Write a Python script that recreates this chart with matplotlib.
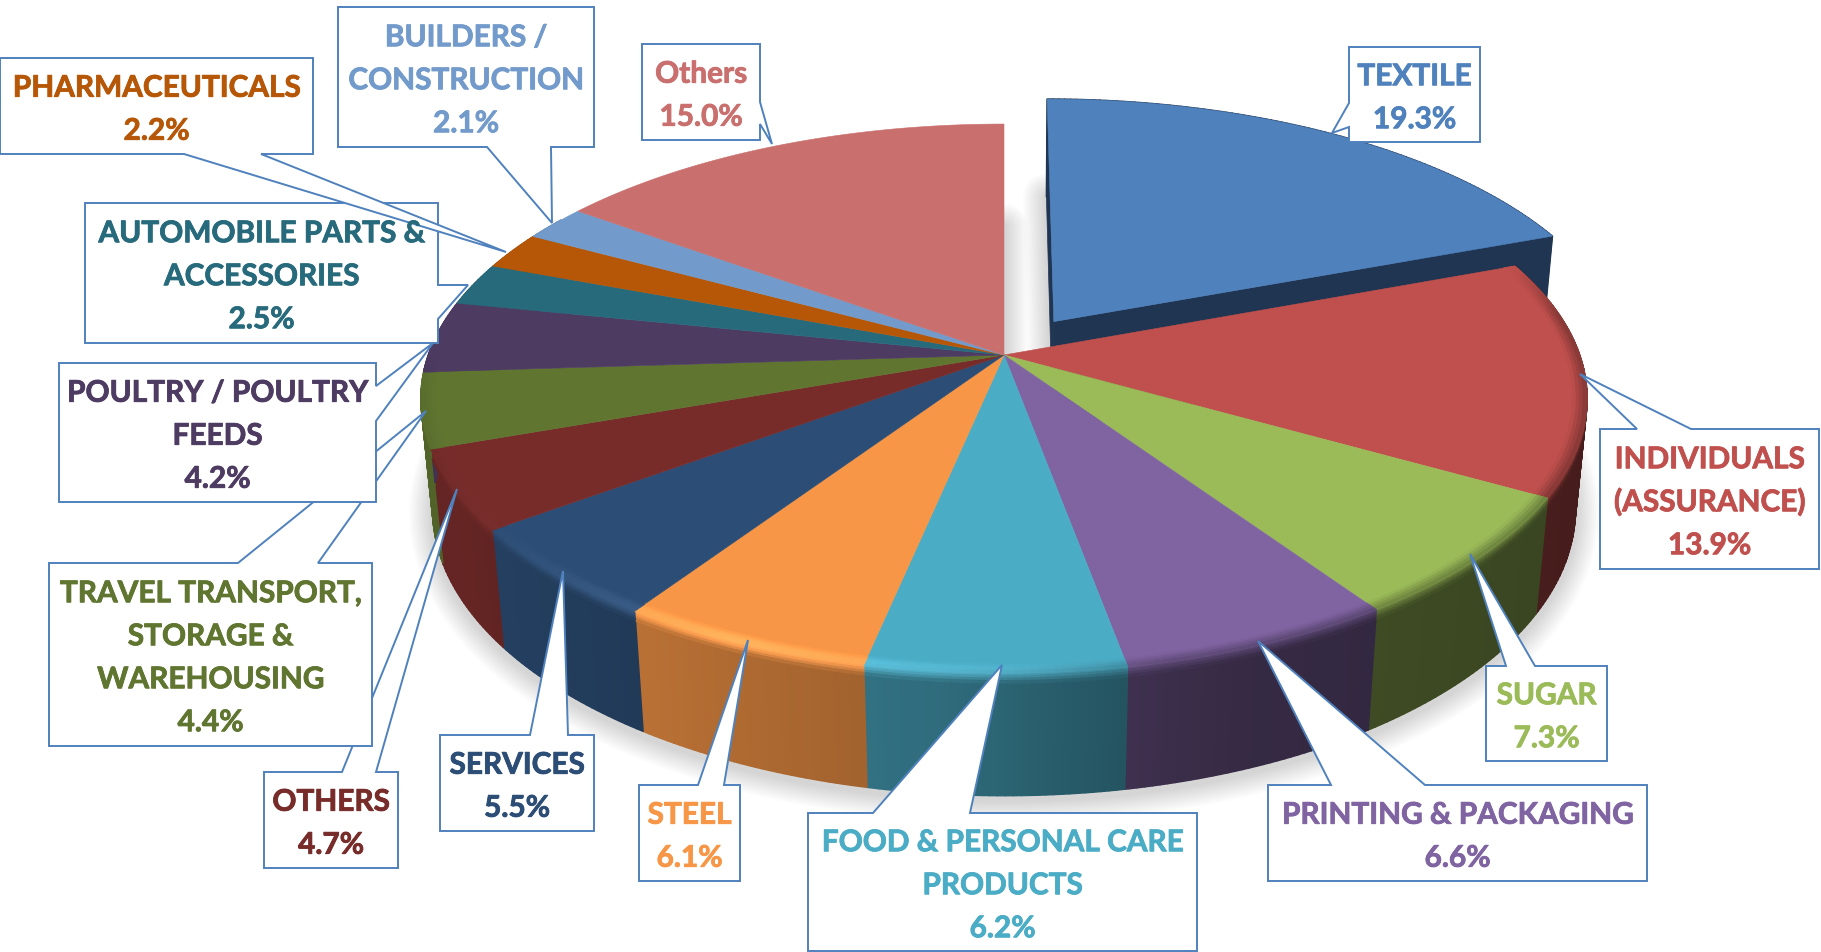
import numpy as np
import matplotlib
matplotlib.use("Agg")
import matplotlib.pyplot as plt
import matplotlib.patheffects as pe
from matplotlib.collections import PolyCollection
from matplotlib.patches import Polygon

# ---------------- DATA ----------------
categories = [
    "TEXTILE", "INDIVIDUALS\n(ASSURANCE)", "SUGAR", "PRINTING & PACKAGING",
    "FOOD & PERSONAL CARE\nPRODUCTS", "STEEL", "SERVICES", "OTHERS",
    "TRAVEL TRANSPORT,\nSTORAGE &\nWAREHOUSING", "POULTRY / POULTRY\nFEEDS",
    "AUTOMOBILE PARTS &\nACCESSORIES", "PHARMACEUTICALS",
    "BUILDERS /\nCONSTRUCTION", "Others",
]
shares = [19.3, 13.9, 7.3, 6.6, 6.2, 6.1, 5.5, 4.7, 4.4, 4.2, 2.5, 2.2, 2.1, 15.0]
colors = [
    "#4f81bd", "#c0504d", "#9bbb59", "#8064a2", "#4bacc6", "#f79646", "#2c4d75",
    "#772c2a", "#5f7530", "#4d3b62", "#276a7c", "#b65708", "#729aca", "#c9706e",
]

# ---------------- LAYOUT ----------------
# box (x0, y0, x1, y1), side of the pointer, pointer base start/end, pointer tip
callouts = {
    0: ((1349, 47, 1480, 142), "left", 103, 127, (1332, 133)),
    1: ((1600, 429, 1819, 569), "top", 1637, 1691, (1580, 374)),
    2: ((1486, 666, 1607, 761), "top", 1506, 1535, (1470, 554)),
    3: ((1268, 785, 1647, 881), "top", 1331, 1425, (1258, 641)),
    4: ((808, 813, 1197, 951), "top", 873, 970, (1002, 665)),
    5: ((639, 785, 740, 881), "top", 698, 724, (748, 640)),
    6: ((440, 735, 594, 831), "top", 530, 568, (563, 571)),
    7: ((264, 772, 398, 868), "top", 342, 376, (457, 489)),
    8: ((49, 563, 372, 746), "top", 238, 318, (426, 411)),
    9: ((59, 363, 376, 502), "right", 386, 421, (433, 343)),
    10: ((85, 203, 438, 343), "right", 285, 319, (468, 285)),
    11: ((0, 58, 313, 154), "bottom", 184, 261, (506, 252)),
    12: ((338, 7, 594, 147), "bottom", 487, 551, (552, 223)),
    13: ((642, 44, 760, 140), "right", 102, 124, (772, 144)),
}
draw_order = [7, 8, 9, 10, 11, 12, 13, 6, 5, 4, 3, 2, 1, 0]

CX, CY = 1004, 355
A, B, K = 575.7, 267.6, 0.1586  # disc width, depth, perspective
D, M = 112, 0.02                # thickness on screen, perspective of thickness
EXPLODE = 0.155
EDGE = "#4f81bd"
FONT_PX = 29.8
LINE_PX = 43


def project(x, y, z=0.0):
    w = 1 - K * y + M * z
    return CX + A * x / w, CY + (B * y + D * z) / w


def disc(theta, r=1.0, off=(0.0, 0.0)):
    return r * np.sin(theta) + off[0], -r * np.cos(theta) + off[1]


def rgb(c):
    return np.array(matplotlib.colors.to_rgb(c))


def side_factor(x):
    return np.interp(x, [-0.9, -0.45, -0.1, 0.15, 0.35, 1.0], [0.85, 0.72, 0.63, 0.5, 0.42, 0.36])


def highlight(x):
    # strongest on the front left of the rim, gone towards both ends
    return np.interp(x, [-1.0, -0.8, -0.4, 0.0, 0.25], [0.0, 0.05, 0.26, 0.16, 0.0])


def brighten(c, amount):
    return np.clip(c * (1 + amount) + 0.25 * amount, 0, 1)


def quad(t0, t1, r0, r1, z0, z1, off):
    x0, y0 = disc(t0, r0, off)
    x1, y1 = disc(t1, r0, off)
    x2, y2 = disc(t1, r1, off)
    x3, y3 = disc(t0, r1, off)
    return [project(x0, y0, z0), project(x1, y1, z0), project(x2, y2, z1), project(x3, y3, z1)]


fig = plt.figure(figsize=(18.21, 9.52), dpi=100)
ax = fig.add_axes([0, 0, 1, 1])
ax.set_xlim(0, 1821)
ax.set_ylim(952, 0)
ax.axis("off")

# ---------------- SLICE ANGLES ----------------
edges = np.cumsum([0] + shares) / sum(shares) * 2 * np.pi
offsets = []
for i in range(len(shares)):
    if i == 0:
        mid = (edges[0] + edges[1]) / 2
        offsets.append((EXPLODE * np.sin(mid), -EXPLODE * np.cos(mid)))
    else:
        offsets.append((0.0, 0.0))


def outline(i, z=0.0):
    ts = np.linspace(edges[i], edges[i + 1], 120)
    xs, ys = disc(ts, 1.0, offsets[i])
    sx, sy = project(xs, ys, z)
    ax0, ay0 = project(offsets[i][0], offsets[i][1], z)
    return np.column_stack([np.r_[ax0, sx], np.r_[ay0, sy]])


# ---------------- SOFT SHADOW ----------------
main_ts = np.linspace(edges[1], edges[-1], 400)
sx, sy = project(*disc(main_ts), 1.0)
ax0, ay0 = project(0, 0, 1.0)
main_shadow = np.column_stack([np.r_[ax0, sx], np.r_[ay0, sy + 4]])
for lw in np.linspace(4, 34, 14):
    ax.add_patch(Polygon(main_shadow, closed=True, fc="none", ec="k", lw=lw, alpha=0.013,
                         joinstyle="round", zorder=1))
    ax.add_patch(Polygon(outline(0, 1.0), closed=True, fc="none", ec="k", lw=lw, alpha=0.013,
                         joinstyle="round", zorder=1))

# ---------------- EXPLODED SLICE WALLS ----------------
off = offsets[0]
for t in (edges[0], edges[1]):
    rx, ry = disc(t, 1.0, off)
    wall = [project(off[0], off[1], 0), project(rx, ry, 0), project(rx, ry, 1), project(off[0], off[1], 1)]
    ax.add_patch(Polygon(wall, closed=True, fc="#1f3552", ec="#1f3552", lw=0.5, zorder=2))

# ---------------- OUTER SIDE + BEVEL BELOW THE RIM ----------------
polys, cols = [], []
for i in range(len(shares)):
    base = rgb(colors[i])
    ts = np.arange(edges[i], edges[i + 1] + 0.006, 0.012)
    ts[-1] = edges[i + 1]
    for t0, t1 in zip(ts[:-1], ts[1:]):
        tm = (t0 + t1) / 2
        x, y = disc(tm)
        if i > 0 and y < -0.55:
            continue
        if i == 0:
            polys.append(quad(t0, t1, 1, 1, 0, 1, offsets[i]))
            cols.append(rgb("#1f3552"))
            continue
        dark = base * side_factor(x)
        polys.append(quad(t0, t1, 1, 1, 0, 1, offsets[i]))
        cols.append(dark)
ax.add_collection(PolyCollection(polys, facecolors=cols, edgecolors=cols, linewidths=1.1, zorder=3))

polys, cols = [], []
for i in range(1, len(shares)):
    base = rgb(colors[i])
    ts = np.arange(edges[i], edges[i + 1] + 0.006, 0.012)
    ts[-1] = edges[i + 1]
    for t0, t1 in zip(ts[:-1], ts[1:]):
        x, y = disc((t0 + t1) / 2)
        if y < -0.55:
            continue
        dark = base * side_factor(x)
        for k in range(4):
            z0, z1 = 0.02 * k, 0.02 * (k + 1)
            f = 0.5 + 0.5 * (k + 0.5) / 4
            hl = highlight(x) * np.sin(np.pi * f)
            polys.append(quad(t0, t1, 1, 1, z0, z1, offsets[i]))
            cols.append(brighten(base * (1 - f) + dark * f, hl))
ax.add_collection(PolyCollection(polys, facecolors=cols, edgecolors=cols, linewidths=0.8, zorder=3.5))

# ---------------- TOP FACES ----------------
for i in range(len(shares)):
    ax.add_patch(Polygon(outline(i), closed=True, fc=colors[i], ec=colors[i], lw=0.4, zorder=4))

# ---------------- BEVEL ON THE TOP FACE ----------------
polys, cols = [], []
for i in range(1, len(shares)):
    base = rgb(colors[i])
    ts = np.arange(edges[i], edges[i + 1] + 0.006, 0.012)
    ts[-1] = edges[i + 1]
    for t0, t1 in zip(ts[:-1], ts[1:]):
        x, y = disc((t0 + t1) / 2)
        start = -0.35 if x > 0 else -0.05
        strength = np.clip((y - start) / 0.2, 0, 1)
        if strength <= 0:
            continue
        dark = base * side_factor(x)
        for k in range(4):
            r0, r1 = 0.976 + 0.006 * k, 0.976 + 0.006 * (k + 1)
            f = 0.5 * (k + 0.5) / 4
            hl = highlight(x) * np.sin(np.pi * f)
            c = base * (1 - f * strength) + dark * f * strength
            polys.append(quad(t0, t1, r0, r1, 0, 0, offsets[i]))
            cols.append(brighten(c, hl * strength))
ax.add_collection(PolyCollection(polys, facecolors=cols, edgecolors=cols, linewidths=0.8, zorder=5))

# ---------------- CALLOUTS ----------------
for n, i in enumerate(draw_order):
    (x0, y0, x1, y1), side, b0, b1, tip = callouts[i]
    if side == "top":
        pts = [(x0, y0), (b0, y0), tip, (b1, y0), (x1, y0), (x1, y1), (x0, y1)]
    elif side == "bottom":
        pts = [(x0, y0), (x1, y0), (x1, y1), (b1, y1), tip, (b0, y1), (x0, y1)]
    elif side == "right":
        pts = [(x0, y0), (x1, y0), (x1, b0), tip, (x1, b1), (x1, y1), (x0, y1)]
    else:
        pts = [(x0, y0), (x1, y0), (x1, y1), (x0, y1), (x0, b1), tip, (x0, b0)]
    ax.add_patch(Polygon(pts, closed=True, fc="white", ec=EDGE, lw=1.4, joinstyle="miter",
                         clip_on=False, zorder=10 + n))

for i in range(len(shares)):
    (x0, y0, x1, y1), _, _, _, _ = callouts[i]
    lines = categories[i].split("\n") + [f"{shares[i]:.1f}%"]
    cx = (x0 + x1) / 2
    cy = (y0 + y1) / 2
    for k, line in enumerate(lines):
        base_y = cy + (k - (len(lines) - 1) / 2) * LINE_PX + FONT_PX * 0.36 + 1.5
        ax.text(cx, base_y, line, color=colors[i], ha="center", va="baseline",
                family=["Lato", "DejaVu Sans"], weight="bold", fontsize=FONT_PX * 0.72, zorder=40,
                path_effects=[pe.withStroke(linewidth=0.6, foreground=colors[i])])

fig.savefig("out.png", dpi=100, facecolor="white")
